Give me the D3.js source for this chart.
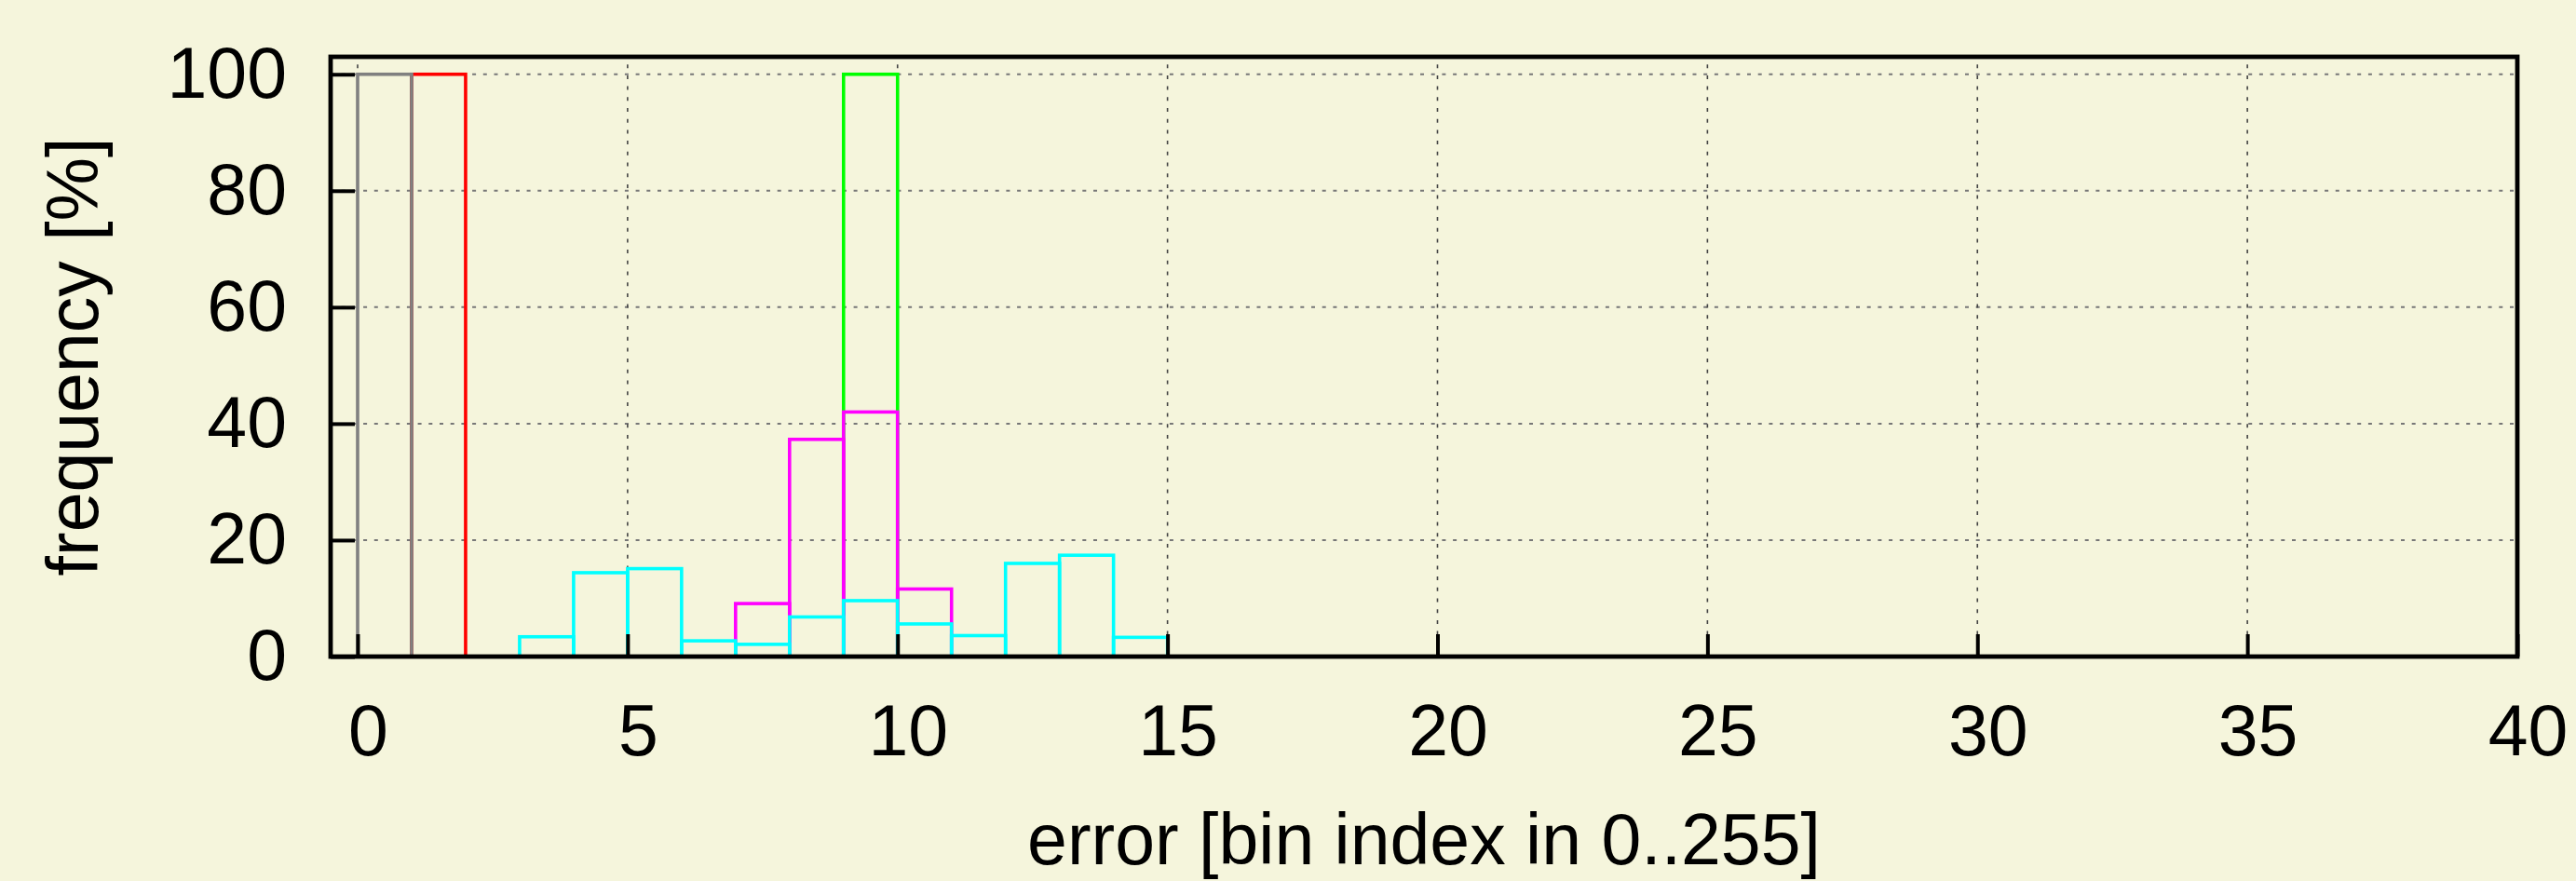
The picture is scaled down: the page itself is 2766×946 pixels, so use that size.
<!DOCTYPE html>
<html>
<head>
<meta charset="utf-8">
<script src="https://cdn.jsdelivr.net/npm/d3@7"></script>
<style>
  html, body { margin: 0; padding: 0; background: #f5f5dc; }
  svg { display: block; }
  text { font-family: "Liberation Sans", Arial, sans-serif; fill: #000; }
</style>
</head>
<body>
<div id="chart"></div>
<script>
// histogram bins (bin k covers [k, k+1])
var bins = [0, 1, 2, 3, 4, 5, 6, 7, 8, 9, 10, 11, 12, 13, 14, 15];

// frequency [%] per bin, one array per curve
var redPct     = [0, 100, 0, 0, 0, 0, 0, 0, 0, 0, 0, 0, 0, 0, 0, 0];
var greenPct   = [0, 0, 0, 0, 0, 0, 0, 0, 0, 100, 0, 0, 0, 0, 0, 0];
var magentaPct = [0, 0, 0, 0, 0, 0, 0, 9.1, 37.3, 42.0, 11.6, 0, 0, 0, 0, 0];
var cyanPct    = [0, 0, 0, 3.4, 14.4, 15.1, 2.7, 2.1, 6.8, 9.6, 5.6, 3.6, 16.0, 17.4, 3.3, 0];
var grayPct    = [100, 0, 0, 0, 0, 0, 0, 0, 0, 0, 0, 0, 0, 0, 0, 0];

var xTicks = [0, 5, 10, 15, 20, 25, 30, 35, 40];
var yTicks = [0, 20, 40, 60, 80, 100];

var xLabel = "error [bin index in 0..255]";
var yLabel = "frequency [%]";

// draw order matters: later curves sit on top
var series = [
    {name: "red", color: "#ff0000", values: redPct},
    {name: "green", color: "#00ff00", values: greenPct},
    {name: "magenta", color: "#ff00ff", values: magentaPct},
    {name: "cyan", color: "#00ffff", values: cyanPct},
    {name: "gray", color: "#808080", values: grayPct}
];

var W = 2766, H = 946;
var margin = {top: 61, right: 63, bottom: 241, left: 355};
var width = W - margin.left - margin.right;
var height = H - margin.top - margin.bottom;
var fontSize = 77;

var x = d3.scaleLinear().domain([-0.5, 40]).range([0, width]);
var y = d3.scaleLinear().domain([0, 103]).range([height, 0]);

var svg = d3.select("#chart").append("svg")
    .attr("width", W)
    .attr("height", H);

svg.append("rect")
    .attr("width", W)
    .attr("height", H)
    .attr("fill", "#f5f5dc");

var g = svg.append("g")
    .attr("transform", "translate(" + margin.left + "," + margin.top + ")");

// grid
g.append("g").attr("class", "ygrid")
    .selectAll("line")
    .data(yTicks.filter(function(d) { return d > 0; }))
    .join("line")
    .attr("x1", 0).attr("x2", width)
    .attr("y1", function(d) { return y(d); })
    .attr("y2", function(d) { return y(d); })
    .attr("stroke", "#777")
    .attr("stroke-width", 2)
    .attr("stroke-dasharray", "4,7.7");

g.append("g").attr("class", "xgrid")
    .selectAll("line")
    .data(xTicks.filter(function(d) { return d < 40; }))
    .join("line")
    .attr("x1", function(d) { return x(d); })
    .attr("x2", function(d) { return x(d); })
    .attr("y1", height).attr("y2", 0)
    .attr("stroke", "#444")
    .attr("stroke-width", 1.6)
    .attr("stroke-dasharray", "4,7.7");

// histogram outlines
series.forEach(function(s) {
    var pts = bins.map(function(b, i) { return {bin: b, v: s.values[i]}; })
        .filter(function(d) { return d.v > 0; });
    g.append("g").attr("class", "series " + s.name)
        .selectAll("rect")
        .data(pts)
        .join("rect")
        .attr("x", function(d) { return x(d.bin); })
        .attr("y", function(d) { return y(d.v); })
        .attr("width", function(d) { return x(d.bin + 1) - x(d.bin); })
        .attr("height", function(d) { return y(0) - y(d.v); })
        .attr("fill", "none")
        .attr("stroke", s.color)
        .attr("stroke-width", 3.6);
});

// axes (ticks point inward)
var xAxis = d3.axisBottom(x)
    .tickValues(xTicks)
    .tickSize(-24)
    .tickPadding(51)
    .tickFormat(d3.format("d"));

var yAxis = d3.axisLeft(y)
    .tickValues(yTicks)
    .tickSize(-26)
    .tickPadding(47)
    .tickFormat(d3.format("d"));

var gx = g.append("g")
    .attr("transform", "translate(0," + height + ")")
    .call(xAxis);
var gy = g.append("g").call(yAxis);

[gx, gy].forEach(function(a) {
    a.select(".domain").remove();
    a.selectAll(".tick line").attr("stroke", "#000").attr("stroke-width", 4);
    a.selectAll(".tick text")
        .attr("font-family", "Liberation Sans, Arial, sans-serif")
        .attr("font-size", fontSize)
        .attr("fill", "#000");
});
gx.selectAll(".tick text").attr("dx", 11);

// frame
g.append("rect")
    .attr("x", 0).attr("y", 0)
    .attr("width", width).attr("height", height)
    .attr("fill", "none")
    .attr("stroke", "#000")
    .attr("stroke-width", 4.8);

// axis titles
svg.append("text")
    .attr("x", margin.left + width / 2)
    .attr("y", 928)
    .attr("text-anchor", "middle")
    .attr("font-size", fontSize)
    .text(xLabel);

svg.append("text")
    .attr("transform", "translate(105," + (margin.top + height / 2) + ") rotate(-90)")
    .attr("text-anchor", "middle")
    .attr("font-size", fontSize)
    .text(yLabel);
</script>
</body>
</html>
